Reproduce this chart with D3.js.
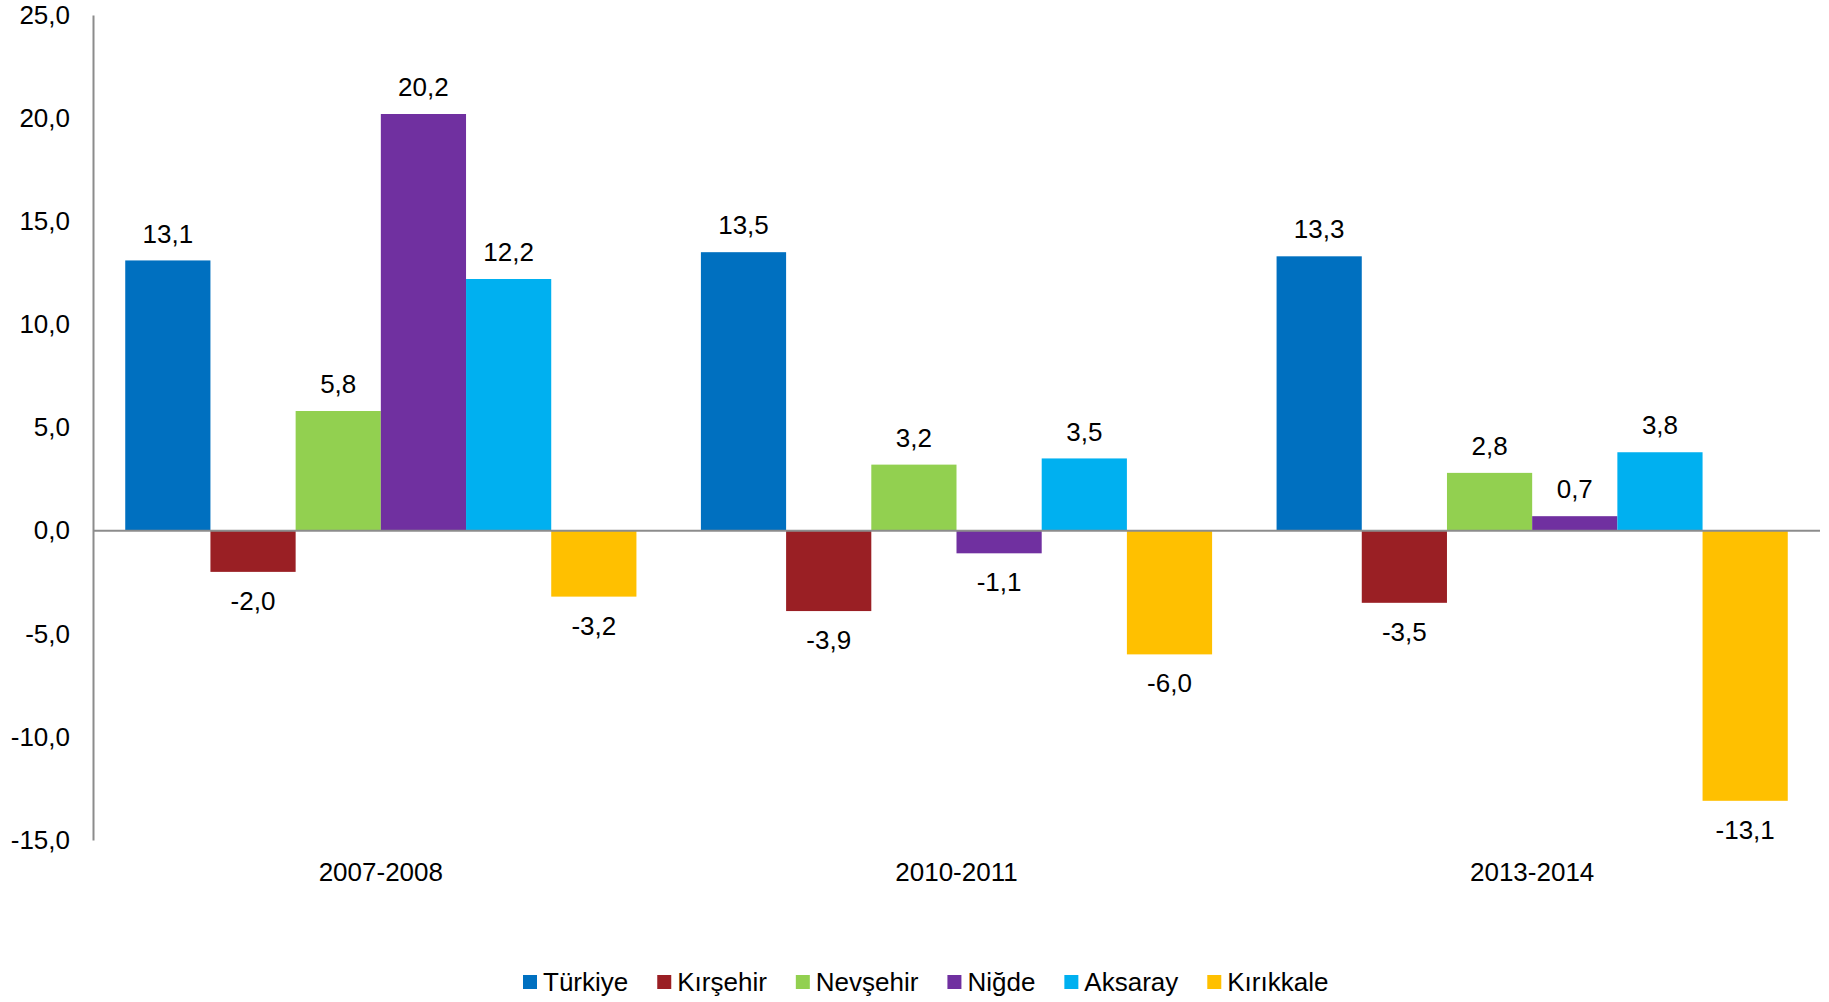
<!DOCTYPE html>
<html>
<head>
<meta charset="utf-8">
<script src="https://cdn.jsdelivr.net/npm/d3@7"></script>
<style>
  body { margin: 0; background: #fff; }
  svg { display: block; font-family: Arial, "Liberation Sans", sans-serif; }
</style>
</head>
<body>
<svg width="1829" height="1002"></svg>
<script>
// veri
const periods = ["2007-2008", "2010-2011", "2013-2014"]
const regions = ["Türkiye", "Kırşehir", "Nevşehir", "Niğde", "Aksaray", "Kırıkkale"]
const turkiye = [13.1, 13.5, 13.3]
const kirsehir = [-2.0, -3.9, -3.5]
const nevsehir = [5.8, 3.2, 2.8]
const nigde = [20.2, -1.1, 0.7]
const aksaray = [12.2, 3.5, 3.8]
const kirikkale = [-3.2, -6.0, -13.1]
const yTicks = [25, 20, 15, 10, 5, 0, -5, -10, -15]
const colors = ["#0070C0", "#9A1F24", "#92D050", "#7030A0", "#00B0F0", "#FFC000"]

const series = [turkiye, kirsehir, nevsehir, nigde, aksaray, kirikkale]

const svg = d3.select('svg')
const marge = {left: 93, right: 1820, top: 15, bottom: 840}
const fs = 26
const fmt = v => v.toFixed(1).replace('.', ',')

// ölçekler
const y = d3.scaleLinear().domain([-15, 25]).range([marge.bottom, marge.top])
const x0 = d3.scaleBand().domain(periods).range([marge.left, marge.right]).paddingInner(0.112).paddingOuter(0.056)
const x1 = d3.scaleBand().domain(regions).range([0, x0.bandwidth()])
const color = d3.scaleOrdinal().domain(regions).range(colors)

// y ekseni
const yAxis = svg.append('g')
  .attr('transform', 'translate(' + marge.left + ',0)')
  .call(d3.axisLeft(y).tickValues(yTicks).tickSize(0).tickPadding(23).tickFormat(fmt))
yAxis.select('.domain').attr('stroke', '#8c8c8c').attr('stroke-width', 2)
yAxis.selectAll('text').attr('font-size', fs).attr('fill', '#000')
  .attr('font-family', 'Arial, "Liberation Sans", sans-serif')

// çubuklar
const rows = []
periods.forEach((p, i) => {
  regions.forEach((r, j) => rows.push({ period: p, region: r, value: series[j][i] }))
})

const bars = svg.append('g').selectAll('g').data(rows).enter().append('g')
  .attr('transform', d => 'translate(' + (x0(d.period) + x1(d.region)) + ',0)')

bars.append('rect')
  .attr('x', 0)
  .attr('width', x1.bandwidth())
  .attr('y', d => y(Math.max(0, d.value)))
  .attr('height', d => Math.abs(y(d.value) - y(0)))
  .attr('fill', d => color(d.region))

bars.append('text')
  .attr('x', x1.bandwidth() / 2)
  .attr('y', d => d.value >= 0 ? y(d.value) - 27 : y(d.value) + 29)
  .attr('dy', '0.35em')
  .attr('text-anchor', 'middle')
  .attr('font-size', fs)
  .text(d => fmt(d.value))

// sıfır çizgisi
svg.append('line')
  .attr('x1', marge.left).attr('x2', marge.right)
  .attr('y1', y(0)).attr('y2', y(0))
  .attr('stroke', '#8c8c8c').attr('stroke-width', 2)

// kategori etiketleri
svg.append('g').selectAll('text').data(periods).enter().append('text')
  .attr('x', d => x0(d) + x0.bandwidth() / 2)
  .attr('y', 872)
  .attr('dy', '0.35em')
  .attr('text-anchor', 'middle')
  .attr('font-size', fs)
  .text(d => d)

// lejant
const legend = svg.append('g')
let lx = 523
regions.forEach(r => {
  const it = legend.append('g').attr('transform', 'translate(' + lx + ',982)')
  it.append('rect').attr('x', 0).attr('y', -7).attr('width', 14).attr('height', 14).attr('fill', color(r))
  const t = it.append('text').attr('x', 20).attr('dy', '0.35em').attr('font-size', fs).text(r)
  lx += 20 + t.node().getComputedTextLength() + 29
})
</script>
</body>
</html>
